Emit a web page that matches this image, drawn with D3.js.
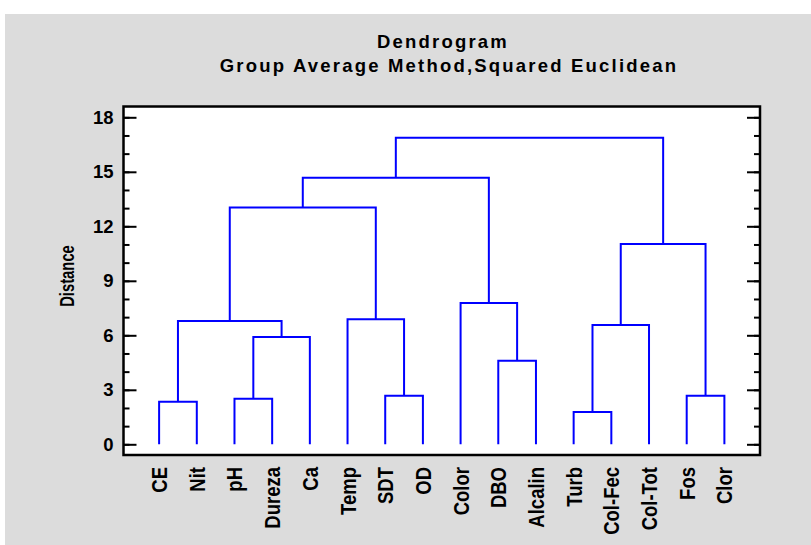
<!DOCTYPE html>
<html>
<head>
<meta charset="utf-8">
<script src="https://cdn.jsdelivr.net/npm/d3@7"></script>
<style>
  body { margin: 0; background: #fff; }
  text { font-family: "Liberation Sans", Arial, sans-serif; font-weight: bold; fill: #000; }
</style>
</head>
<body>
<div class="chart"></div>
<script>
// leaves in dendrogram order
var leaves = ["CE", "Nit", "pH", "Dureza", "Ca", "Temp", "SDT", "OD",
  "Color", "DBO", "Alcalin", "Turb", "Col-Fec", "Col-Tot", "Fos", "Clor"];

// merges: indices < 16 are leaves, 16+ are earlier merges (in this order)
var mergeLeft  = [0, 2, 17, 16, 6, 5, 19, 9, 8, 22, 11, 26, 14, 27, 25];
var mergeRight = [1, 3, 4, 18, 7, 20, 21, 10, 23, 24, 12, 13, 15, 28, 29];
var mergeDist  = [2.34, 2.51, 5.90, 6.79, 2.67, 6.88, 13.04, 4.60, 7.78, 14.67, 1.78, 6.57, 2.67, 11.02, 16.87];

var yTicks = [0, 3, 6, 9, 12, 15, 18];
var yMinor = d3.range(0, 19, 1);

var titleLines = ["Dendrogram", "Group Average Method,Squared Euclidean"];

(function() {
  var width = 811, height = 545,
    box = { left: 123.5, right: 760, top: 106.5, bottom: 455 };

  var svg = d3.select(".chart").append("svg")
    .attr("width", width)
    .attr("height", height);

  svg.append("rect")
    .attr("x", 5).attr("y", 14)
    .attr("width", width - 5).attr("height", height - 14)
    .attr("fill", "#dcdcdc");

  svg.append("rect")
    .attr("x", box.left).attr("y", box.top)
    .attr("width", box.right - box.left).attr("height", box.bottom - box.top)
    .attr("fill", "#fff");

  var x = d3.scalePoint().domain(leaves).range([box.left, box.right]).padding(0.945);
  var y = d3.scaleLinear().domain([0, 18]).range([444.3, 117.3]);

  // axes, ticks pointing inward on both sides
  svg.append("g").attr("transform", "translate(" + box.left + ",0)")
    .call(d3.axisLeft(y).tickValues(yMinor).tickSize(-6).tickFormat(""));
  var gmaj = svg.append("g").attr("transform", "translate(" + box.left + ",0)")
    .call(d3.axisLeft(y).tickValues(yTicks).tickSize(-13).tickPadding(10));
  gmaj.selectAll("text").style("font-size", "18.5px");
  svg.append("g").attr("transform", "translate(" + box.right + ",0)")
    .call(d3.axisRight(y).tickValues(yMinor).tickSize(-6).tickFormat(""));
  svg.append("g").attr("transform", "translate(" + box.right + ",0)")
    .call(d3.axisRight(y).tickValues(yTicks).tickSize(-13).tickFormat(""));
  svg.selectAll(".domain").remove();
  svg.selectAll(".tick line").attr("stroke", "#000").attr("stroke-width", 2);

  // frame
  svg.append("rect")
    .attr("x", box.left).attr("y", box.top)
    .attr("width", box.right - box.left).attr("height", box.bottom - box.top)
    .attr("fill", "none").attr("stroke", "#000").attr("stroke-width", 2.5);

  // node positions
  var nodes = leaves.map(function(d) { return { x: x(d), h: 0 }; });
  mergeDist.forEach(function(h, i) {
    var a = nodes[mergeLeft[i]], b = nodes[mergeRight[i]];
    nodes.push({ x: (a.x + b.x) / 2, h: h, a: a, b: b });
  });

  svg.append("g").selectAll("path")
    .data(nodes.slice(leaves.length))
    .enter().append("path")
      .attr("fill", "none")
      .attr("stroke", "#0000ff")
      .attr("stroke-width", 2)
      .attr("d", function(d) {
        return "M" + d.a.x + "," + y(d.a.h) + "V" + y(d.h) + "H" + d.b.x + "V" + y(d.b.h);
      });

  // leaf labels
  svg.append("g").selectAll("text")
    .data(leaves)
    .enter().append("text")
      .attr("transform", function(d) { return "translate(" + x(d) + ",467) rotate(-90) scale(1,1.2)"; })
      .attr("text-anchor", "end")
      .attr("dy", "0.36em")
      .style("font-size", "18.5px")
      .text(function(d) { return d; });

  svg.append("text")
    .attr("transform", "translate(67,276) rotate(-90) scale(1,1.35)")
    .attr("text-anchor", "middle")
    .attr("dy", "0.36em")
    .style("font-size", "14.8px")
    .text("Distance");

  svg.append("g").selectAll("text")
    .data(titleLines)
    .enter().append("text")
      .attr("x", function(d, i) { return i ? 449 : 443; })
      .attr("y", function(d, i) { return 47.5 + i * 24; })
      .attr("text-anchor", "middle")
      .style("font-size", "18.5px")
      .style("letter-spacing", "2.2px")
      .text(function(d) { return d; });
})();
</script>
</body>
</html>
